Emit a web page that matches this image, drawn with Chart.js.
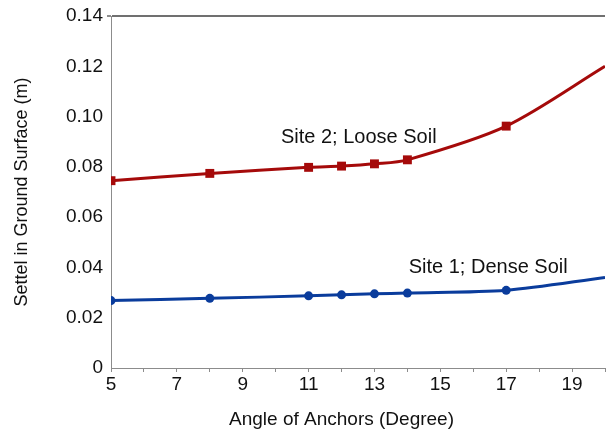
<!DOCTYPE html>
<html>
<head>
<meta charset="utf-8">
<script src="https://cdn.jsdelivr.net/npm/chart.js@4/dist/chart.umd.min.js"></script>
<style>
  html, body { margin: 0; padding: 0; background: #ffffff; }
  #wrap { width: 606px; height: 435px; }
</style>
</head>
<body>
<div id="wrap"><canvas id="c"></canvas></div>
<script>
// Anchor angle (degrees) and ground-surface settlement (m) for the two sites
const angles = [5, 8, 11, 12, 13, 14, 17, 20];
const site1Dense = [0.0268, 0.0277, 0.0287, 0.0291, 0.0295, 0.0298, 0.0309, 0.0360];
const site2Loose = [0.0745, 0.0774, 0.0798, 0.0803, 0.0812, 0.0828, 0.0962, 0.1200];
const xTickLabels = ['5', '7', '9', '11', '13', '15', '17', '19'];
const seriesNames = ['Site 1; Dense Soil', 'Site 2; Loose Soil'];
const xTitle = 'Angle of Anchors (Degree)';
const yTitle = 'Settel in Ground Surface (m)';

const FONT = '"Liberation Sans", Arial, sans-serif';
const RED = '#a50a0a';
const BLUE = '#0a3c9c';

const toPoints = (ys) => angles.map((a, i) => ({ x: a, y: ys[i] }));
// markers on measured angles only; the last point just carries the curve to the edge
const markerSizes = (r) => angles.map((a) => (a >= 20 ? 0 : r));

// series captions written inside the plot, anchored in data coordinates
const captions = [
  { text: seriesNames[1], x: 10.16, y: 0.0918 },
  { text: seriesNames[0], x: 14.04, y: 0.0398 }
];

const captionPlugin = {
  id: 'captions',
  afterDatasetsDraw(chart) {
    const { ctx, scales } = chart;
    ctx.save();
    ctx.fillStyle = '#111111';
    ctx.font = '20px ' + FONT;
    ctx.textAlign = 'left';
    ctx.textBaseline = 'middle';
    captions.forEach((c) => {
      ctx.fillText(c.text, scales.x.getPixelForValue(c.x), scales.y.getPixelForValue(c.y));
    });
    // x-axis title, centred under angle 12
    ctx.font = '19px ' + FONT;
    ctx.textAlign = 'center';
    ctx.textBaseline = 'middle';
    ctx.fillText(xTitle, scales.x.getPixelForValue(12), scales.x.bottom - 15);
    ctx.restore();
  }
};

new Chart(document.getElementById('c'), {
  type: 'line',
  data: {
    datasets: [
      {
        label: seriesNames[1],
        data: toPoints(site2Loose),
        borderColor: RED,
        backgroundColor: RED,
        borderWidth: 3,
        pointStyle: 'rect',
        pointRadius: markerSizes(6.3),
        pointBorderWidth: 0,
        tension: 0.3,
        fill: false
      },
      {
        label: seriesNames[0],
        data: toPoints(site1Dense),
        borderColor: BLUE,
        backgroundColor: BLUE,
        borderWidth: 3,
        pointStyle: 'circle',
        pointRadius: markerSizes(4.5),
        pointBorderWidth: 0,
        tension: 0.3,
        fill: false
      }
    ]
  },
  options: {
    responsive: true,
    maintainAspectRatio: false,
    animation: false,
    devicePixelRatio: 1,
    layout: { autoPadding: false, padding: { top: 16, right: 0, left: 0, bottom: 0 } },
    plugins: {
      legend: { display: false },
      tooltip: { enabled: false }
    },
    scales: {
      x: {
        type: 'linear',
        min: 5,
        max: 20,
        afterBuildTicks(scale) {
          const t = [];
          for (let v = 5; v <= 20; v++) t.push({ value: v });
          scale.ticks = t;
        },
        ticks: {
          autoSkip: false,
          maxRotation: 0,
          color: '#111111',
          font: { family: FONT, size: 19 },
          padding: 1,
          callback(v) {
            const s = String(v);
            return xTickLabels.includes(s) ? s : '';
          }
        },
        grid: {
          drawOnChartArea: false,
          drawTicks: true,
          tickLength: 4,
          tickColor: '#8c8c8c'
        },
        border: { display: true, color: '#8c8c8c', width: 1 },
        title: { display: false },
        afterFit(scale) { scale.height = 67; }
      },
      y: {
        min: 0,
        max: 0.14,
        ticks: {
          stepSize: 0.02,
          color: '#111111',
          font: { family: FONT, size: 19 },
          padding: 4,
          callback(v) {
            if (Math.abs(v) < 1e-9) return '0';
            return Number(v).toFixed(2);
          }
        },
        grid: {
          drawOnChartArea: true,
          drawTicks: true,
          tickLength: 4,
          tickColor: '#8c8c8c',
          color(ctx) {
            return ctx.tick && Math.abs(ctx.tick.value - 0.14) < 1e-9 ? '#707070' : 'rgba(0,0,0,0)';
          },
          lineWidth(ctx) {
            return ctx.tick && Math.abs(ctx.tick.value - 0.14) < 1e-9 ? 2 : 0;
          }
        },
        border: { display: true, color: '#8c8c8c', width: 1 },
        title: {
          display: true,
          text: yTitle,
          color: '#111111',
          font: { family: FONT, size: 18 },
          padding: { top: 11, bottom: 4 }
        },
        afterFit(scale) { scale.width = 111; }
      }
    }
  },
  plugins: [captionPlugin]
});
</script>
</body>
</html>
